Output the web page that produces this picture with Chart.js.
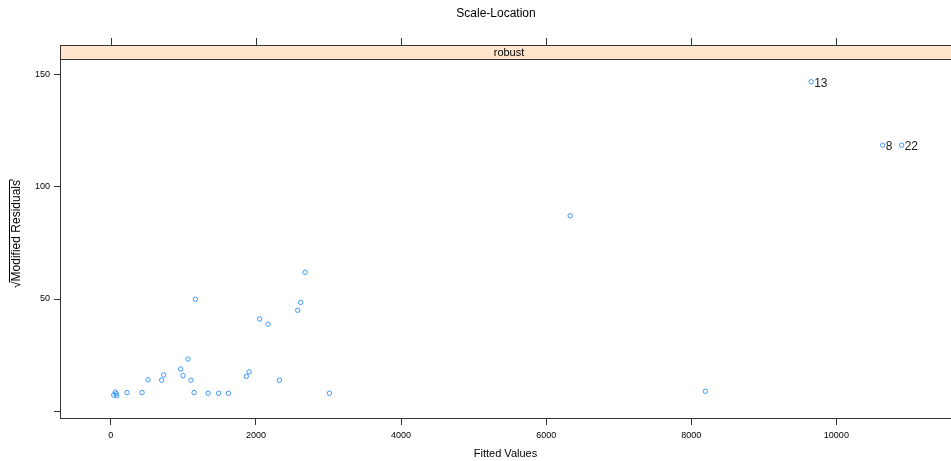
<!DOCTYPE html>
<html>
<head>
<meta charset="utf-8">
<script src="https://cdn.jsdelivr.net/npm/chart.js@4/dist/chart.umd.min.js"></script>
<style>
  html, body { margin: 0; padding: 0; background: #fff; }
  #wrap { width: 951px; height: 461px; }
</style>
</head>
<body>
<div id="wrap"><canvas id="slChart" width="951" height="461"></canvas></div>
<script>
// values
const fitted = [40, 60, 75, 80, 223, 430, 513, 700, 728, 962, 995, 1064, 1105, 1147, 1165,
    1340, 1486, 1620, 1868, 1905, 2051, 2167, 2323, 2575, 2616, 2677, 3012, 6331, 8194,
    9653, 10638, 10900];
const residuals = [7.3, 8.6, 7.9, 7.0, 8.4, 8.4, 14.1, 13.9, 16.2, 18.9, 15.9, 23.3, 13.9, 8.4, 49.9,
    8.1, 8.1, 8.1, 15.6, 17.6, 41.1, 38.8, 13.9, 45.0, 48.5, 61.9, 8.1, 87.0, 9.0,
    146.6, 118.4, 118.4];
const pointLabels = ['', '', '', '', '', '', '', '', '', '', '', '', '', '', '',
    '', '', '', '', '', '', '', '', '', '', '', '', '', '',
    '13', '8', '22'];
const xTicks = [0, 2000, 4000, 6000, 8000, 10000];
const yTicks = [0, 50, 100, 150];
const yTickLabels = ['', '50', '100', '150'];

const FONT = 'Liberation Sans, Arial, sans-serif';

// title, strip, frame, top ticks, y title, point labels
const latticeBits = {
    id: 'latticeBits',
    afterDraw(chart) {
        const ctx = chart.ctx;
        const a = chart.chartArea;
        const xs = chart.scales.x;
        ctx.save();

        ctx.fillStyle = '#000';
        ctx.font = '12px ' + FONT;
        ctx.textAlign = 'center';
        ctx.textBaseline = 'middle';
        ctx.fillText('Scale-Location', 496, 14);

        // strip
        ctx.fillStyle = '#ffe5cc';
        ctx.fillRect(a.left, 45, a.right - a.left, a.top - 45);
        ctx.strokeStyle = '#333';
        ctx.lineWidth = 1;
        ctx.strokeRect(a.left + 0.5, 45.5, a.right - a.left, a.top - 45);
        ctx.fillStyle = '#000';
        ctx.font = '11px ' + FONT;
        ctx.fillText('robust', 509, 53);

        // top ticks
        ctx.beginPath();
        xTicks.forEach(v => {
            const px = Math.round(xs.getPixelForValue(v)) + 0.5;
            ctx.moveTo(px, 45);
            ctx.lineTo(px, 38);
        });
        ctx.stroke();

        // y title with radical sign
        ctx.translate(17, 234);
        ctx.rotate(-Math.PI / 2);
        ctx.font = '12px ' + FONT;
        ctx.textAlign = 'left';
        const txt = 'Modified Residuals';
        const sq = '\u221A';
        const w1 = ctx.measureText(sq).width;
        const w2 = ctx.measureText(txt).width;
        const start = -(w1 + w2) / 2;
        ctx.fillText(sq + txt, start, 0);
        ctx.beginPath();
        ctx.strokeStyle = '#000';
        ctx.moveTo(start + w1 - 1, -7.5);
        ctx.lineTo(start + w1 + w2, -7.5);
        ctx.lineTo(start + w1 + w2, -4);
        ctx.stroke();
        ctx.setTransform(1, 0, 0, 1, 0, 0);

        // labels next to outliers
        const ys = chart.scales.y;
        ctx.fillStyle = '#222';
        ctx.font = '12px ' + FONT;
        ctx.textAlign = 'left';
        ctx.textBaseline = 'middle';
        pointLabels.forEach((lab, i) => {
            if (!lab) return;
            ctx.fillText(lab, xs.getPixelForValue(fitted[i]) + 3, ys.getPixelForValue(residuals[i]) + 1.5);
        });
        ctx.restore();
    }
};

const ctx = document.getElementById('slChart').getContext('2d');

new Chart(ctx, {
    type: 'scatter',
    data: {
        datasets: [{
            data: fitted.map((v, i) => ({ x: v, y: residuals[i] })),
            pointStyle: 'circle',
            pointRadius: 2.2,
            borderColor: '#3b97ff',
            backgroundColor: 'rgba(0,0,0,0)',
            borderWidth: 1
        }]
    },
    options: {
        responsive: false,
        animation: false,
        layout: { autoPadding: false, padding: { top: 59, left: 0, right: 0, bottom: 0 } },
        plugins: {
            legend: { display: false },
            tooltip: { enabled: false }
        },
        scales: {
            x: {
                type: 'linear',
                min: -701,
                max: 11580,
                afterBuildTicks: s => { s.ticks = xTicks.map(v => ({ value: v })); },
                afterFit: s => { s.height = 43; s.paddingLeft = 0; s.paddingRight = 0; },
                grid: { drawOnChartArea: false, drawTicks: true, tickLength: 7, tickColor: '#333' },
                border: { display: true, color: '#333', width: 1 },
                ticks: { color: '#000', font: { size: 9, family: FONT }, padding: 5, maxRotation: 0, callback: v => String(v) },
                title: { display: true, text: 'Fitted Values', color: '#000', font: { size: 11, family: FONT }, padding: { top: 2, bottom: 0 } }
            },
            y: {
                type: 'linear',
                min: -2.9,
                max: 156.7,
                afterBuildTicks: s => { s.ticks = yTicks.map(v => ({ value: v })); },
                afterFit: s => { s.width = 60; s.paddingTop = 0; s.paddingBottom = 0; },
                grid: { drawOnChartArea: false, drawTicks: true, tickLength: 6, tickColor: '#333' },
                border: { display: true, color: '#333', width: 1 },
                ticks: {
                    color: '#000',
                    font: { size: 9, family: FONT },
                    padding: 4,
                    callback: (v) => yTickLabels[yTicks.indexOf(v)]
                }
            }
        }
    },
    plugins: [latticeBits]
});
</script>
</body>
</html>
